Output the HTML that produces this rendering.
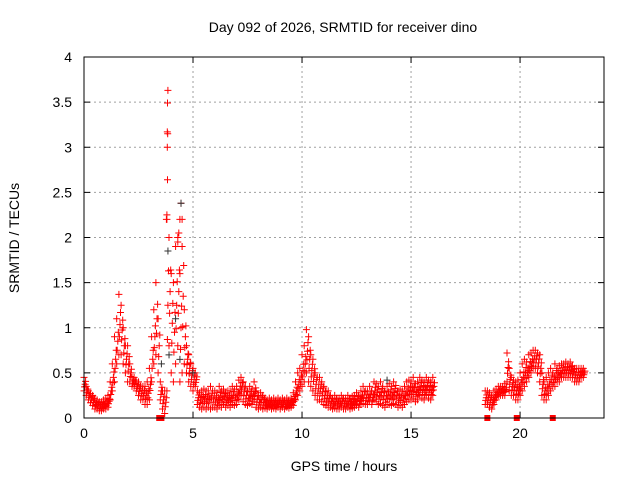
<!DOCTYPE html>
<html><head><meta charset="utf-8"><style>
body{margin:0;background:#fff}
svg{display:block;font-family:"Liberation Sans",sans-serif}
</style></head><body>
<svg id="chart" width="640" height="480" viewBox="0 0 640 480">
<rect x="0" y="0" width="640" height="480" fill="#fff"/>
<text x="343" y="32" font-size="14" text-anchor="middle">Day 092 of 2026, SRMTID for receiver dino</text>
<text x="344" y="471" font-size="14" text-anchor="middle">GPS time / hours</text>
<text transform="translate(19,238) rotate(-90)" font-size="14" text-anchor="middle">SRMTID / TECUs</text>
<g id="grid"></g>
<g id="ticks"></g>
<g id="marks"></g>
<rect x="84" y="57" width="520" height="361" fill="none" stroke="#000" stroke-width="1"/>
</svg>
<script>
const xTicks=[0,5,10,15,20];
const xTickLabels=["0","5","10","15","20"];
const yTicks=[0,0.5,1,1.5,2,2.5,3,3.5,4];
const yTickLabels=["0","0.5","1","1.5","2","2.5","3","3.5","4"];
const seg1Start=0.0;
const lo1=[0.30,0.25,0.20,0.17,0.14,0.10,0.10,0.08,0.08,0.10,
0.10,0.12,0.20,0.30,0.40,0.60,0.70,0.70,0.60,0.50,
0.40,0.40,0.35,0.35,0.30,0.25,0.20,0.20,0.15,0.15,
0.20,0.40,0.60,0.70,0.50,0.20,0.10,0.05,0.30,0.80,
0.50,0.40,0.60,0.80,0.40,0.50,0.60,0.50,0.40,0.35,
0.30,0.35,0.15,0.12,0.10,0.12,0.10,0.12,0.10,0.12,
0.12,0.10,0.14,0.12,0.15,0.12,0.14,0.12,0.15,0.14,
0.15,0.20,0.25,0.18,0.15,0.14,0.16,0.15,0.18,0.12,
0.10,0.12,0.10,0.11,0.10,0.12,0.10,0.11,0.10,0.12,
0.10,0.12,0.10,0.12,0.11,0.12,0.14,0.20,0.25,0.30,
0.35,0.40,0.50,0.40,0.35,0.30,0.25,0.20,0.20,0.18,
0.15,0.14,0.12,0.12,0.10,0.11,0.10,0.10,0.12,0.10,
0.10,0.12,0.10,0.11,0.12,0.14,0.12,0.15,0.16,0.15,
0.15,0.18,0.15,0.20,0.18,0.15,0.16,0.14,0.12,0.15,
0.15,0.14,0.16,0.15,0.12,0.14,0.12,0.15,0.18,0.20,
0.20,0.22,0.18,0.20,0.25,0.22,0.20,0.25,0.22,0.20,0.25];
const hi1=[0.45,0.35,0.30,0.27,0.25,0.20,0.20,0.18,0.18,0.20,
0.22,0.25,0.40,0.60,0.90,1.10,1.37,1.25,1.00,0.80,
0.80,0.60,0.45,0.45,0.40,0.40,0.35,0.35,0.35,0.40,
0.55,0.90,1.20,1.50,1.10,0.40,0.30,0.30,2.20,2.00,
1.60,1.50,1.90,2.00,1.60,2.20,1.20,0.80,0.70,0.60,
0.55,0.50,0.30,0.28,0.30,0.32,0.30,0.30,0.35,0.30,
0.30,0.28,0.35,0.30,0.32,0.28,0.30,0.30,0.35,0.32,
0.35,0.42,0.45,0.40,0.35,0.30,0.35,0.32,0.40,0.30,
0.25,0.28,0.25,0.22,0.20,0.22,0.20,0.22,0.20,0.22,
0.20,0.22,0.20,0.22,0.20,0.22,0.28,0.40,0.50,0.55,
0.70,0.80,0.98,0.90,0.70,0.65,0.50,0.45,0.45,0.40,
0.35,0.30,0.30,0.25,0.22,0.25,0.22,0.22,0.25,0.22,
0.22,0.25,0.22,0.24,0.25,0.28,0.25,0.30,0.35,0.30,
0.30,0.35,0.30,0.40,0.38,0.35,0.40,0.35,0.30,0.35,
0.38,0.35,0.40,0.36,0.30,0.32,0.30,0.35,0.40,0.42,
0.40,0.45,0.38,0.40,0.45,0.42,0.40,0.45,0.42,0.40,0.45];
const seg2Start=18.4;
const lo2=[0.15,0.15,0.12,0.10,0.15,0.20,
0.25,0.25,0.25,0.25,0.40,0.30,0.25,0.25,0.20,0.20,
0.25,0.30,0.35,0.40,0.45,0.50,0.55,0.55,0.50,0.40,
0.25,0.20,0.20,0.25,0.30,0.35,0.35,0.40,0.40,0.45,
0.45,0.45,0.45,0.45,0.45,0.40,0.40,0.40,0.45,0.45];
const hi2=[0.30,0.30,0.28,0.25,0.30,0.32,
0.35,0.35,0.35,0.38,0.72,0.55,0.45,0.42,0.40,0.42,
0.50,0.60,0.65,0.62,0.70,0.72,0.75,0.75,0.72,0.70,
0.50,0.40,0.45,0.50,0.55,0.50,0.60,0.55,0.58,0.60,
0.60,0.62,0.60,0.62,0.58,0.55,0.55,0.55,0.55,0.55];
const spikeT=[3.85,3.83,3.82,3.84,3.82,3.83,3.80,3.78,4.45,4.40,4.35,4.50,4.30];
const spikeV=[3.63,3.49,3.17,3.15,3.00,2.64,2.25,2.20,2.38,2.20,2.05,1.90,1.95];
const blackT=[3.85,4.45,4.40,3.55,3.90,4.20,5.0,13.9];
const blackV=[1.85,2.38,0.65,0.60,0.70,1.10,0.50,0.42];
const zeroT=[3.45,3.55,18.5,19.85,21.5];
const zeroV=[0,0,0,0,0];

const X0=84,X1=604,Y0=418,Y1=57;
const xMax=23.85,yMax=4;
function xs(t){return X0+t/xMax*(X1-X0);}
function ys(v){return Y0-v/yMax*(Y0-Y1);}
const NS='http://www.w3.org/2000/svg';
function mk(tag,attrs,parent){const e=document.createElementNS(NS,tag);for(const k in attrs)e.setAttribute(k,attrs[k]);parent.appendChild(e);return e;}
const grid=document.getElementById('grid'),ticks=document.getElementById('ticks'),marks=document.getElementById('marks');
xTicks.forEach((t,i)=>{
  const x=xs(t);
  if(t>0){const g=mk('line',{x1:x,x2:x,y1:Y0,y2:Y1,stroke:'#a0a0a0','stroke-dasharray':'2,3'},grid);
  
  }
  mk('line',{x1:x,x2:x,y1:Y0,y2:Y0-6,stroke:'#000'},ticks);
  mk('line',{x1:x,x2:x,y1:Y1,y2:Y1+6,stroke:'#000'},ticks);
  const l=mk('text',{x:x,y:Y0+20,'font-size':14,'text-anchor':'middle'},ticks);
  l.textContent=xTickLabels[i];
  
  
});
yTicks.forEach((v,i)=>{
  const y=ys(v);
  if(v>0&&v<4){const g=mk('line',{x1:X0,x2:X1,y1:y,y2:y,stroke:'#a0a0a0','stroke-dasharray':'2,3'},grid);
  
  }
  mk('line',{x1:X0,x2:X0+6,y1:y,y2:y,stroke:'#000'},ticks);
  mk('line',{x1:X1,x2:X1-6,y1:y,y2:y,stroke:'#000'},ticks);
  const l=mk('text',{x:X0-12,y:y+5,'font-size':14,'text-anchor':'end'},ticks);
  l.textContent=yTickLabels[i];
  
  
});
let d='';
function plus(t,v){const x=xs(t),y=ys(v);d+=`M${(x-3.5).toFixed(1)} ${y.toFixed(1)}h7M${x.toFixed(1)} ${(y-3.5).toFixed(1)}v7`;}
function seg(start,lo,hi){
  for(let i=0;i<lo.length;i++){
    const t=start+i*0.1;
    plus(t,lo[i]);plus(t,hi[i]);
    plus(t+0.05,(lo[i]+hi[i])/2);
    plus(t+0.025,lo[i]*0.7+hi[i]*0.3);
    plus(t+0.075,lo[i]*0.3+hi[i]*0.7);
  }
}
seg(seg1Start,lo1,hi1);
seg(seg2Start,lo2,hi2);
spikeT.forEach((t,i)=>plus(t,spikeV[i]));
const red=mk('path',{d:d,stroke:'#ff0000','stroke-width':1,fill:'none'},marks);


let db='';
blackT.forEach((t,i)=>{const x=xs(t),y=ys(blackV[i]);db+=`M${x-3.5} ${y}h7M${x} ${y-3.5}v7`;});
const blk=mk('path',{d:db,stroke:'#333','stroke-width':1,fill:'none'},marks);


zeroT.forEach((t,i)=>{
  const r=mk('rect',{x:xs(t)-3,y:ys(zeroV[i])-3,width:6,height:6,fill:'#ff0000'},marks);
  
  
});
</script>
</body></html>
